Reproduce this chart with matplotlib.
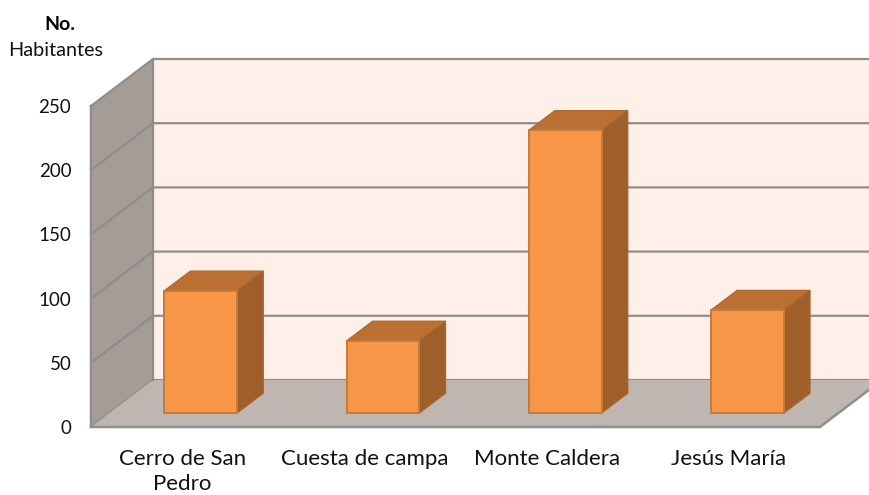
# coding:utf-8

import matplotlib
matplotlib.use('Agg')
import matplotlib.pyplot as plt
from matplotlib.patches import Polygon

plt.rcParams['font.family'] = ['Lato', 'DejaVu Sans']

categories = ['Cerro de San\nPedro', 'Cuesta de campa', 'Monte Caldera', 'Jesús María']
values = [95, 56, 220, 80]
y_ticks = [0, 50, 100, 150, 200, 250]

# oblique projection: how far one full chart depth moves a point
depth_x = 62 / 182.25
depth_y = 47 / 1.284
bar_half = 0.2
bar_front = 0.3
bar_back = 0.72


def pt(x, y, d=0.0):
    return (x + d * depth_x, y + d * depth_y)


def face(ax, points, color, edge, lw=1.0, z=2):
    ax.add_patch(Polygon(points, closed=True, facecolor=color, edgecolor=edge,
                         linewidth=lw, zorder=z, clip_on=False, joinstyle='miter'))


fig = plt.figure(figsize=(8.69, 4.95), dpi=100)
ax = fig.add_axes([91 / 869, 68 / 495, 729 / 869, 321 / 495])
ax.set_xlim(-0.5, 3.5)
ax.set_ylim(0, 250)
for s in ax.spines.values():
    s.set_visible(False)

grid = '#8E8E8E'
x0, x1 = -0.5, 3.5
y_top = y_ticks[-1]

# walls and floor
face(ax, [pt(x0, 0, 1), pt(x1, 0, 1), pt(x1, y_top, 1), pt(x0, y_top, 1)], '#FEF0E8', 'none', z=1)
face(ax, [pt(x0, 0), pt(x0, 0, 1), pt(x0, y_top, 1), pt(x0, y_top)], '#A59C96', 'none', z=1)
face(ax, [pt(x0, 0), pt(x1, 0), pt(x1, 0, 1), pt(x0, 0, 1)], '#BFB5B1', 'none', z=1.5)

for t in y_ticks:
    line = [pt(x0, t), pt(x0, t, 1), pt(x1, t, 1)]
    ax.plot([p[0] for p in line], [p[1] for p in line], color=grid, lw=1.6,
            zorder=1.2, clip_on=False, solid_joinstyle='miter')

edge_pts = [pt(x0, y_top), pt(x0, 0), pt(x1, 0), pt(x1, 0, 1)]
ax.plot([p[0] for p in edge_pts], [p[1] for p in edge_pts], color=grid, lw=1.8,
        zorder=1.6, clip_on=False, solid_joinstyle='miter')
ax.plot(*zip(pt(x0, 0, 1), pt(x0, y_top, 1)), color=grid, lw=1.6, zorder=1.6, clip_on=False)

# bars
for i, v in enumerate(values):
    l, r = i - bar_half, i + bar_half
    face(ax, [pt(l, v, bar_front), pt(r, v, bar_front), pt(r, v, bar_back), pt(l, v, bar_back)],
         '#BA7032', '#B06A30', z=3)
    face(ax, [pt(r, 0, bar_front), pt(r, 0, bar_back), pt(r, v, bar_back), pt(r, v, bar_front)],
         '#9E5F2A', '#A8652C', z=3)
    face(ax, [pt(l, 0, bar_front), pt(r, 0, bar_front), pt(r, v, bar_front), pt(l, v, bar_front)],
         '#F79646', '#C47B3C', lw=1.4, z=4)

ax.set_yticks(y_ticks)
ax.set_xticks(range(len(categories)))
ax.set_xticklabels(categories, linespacing=1.3)
ax.tick_params(axis='y', length=0, pad=14.2, labelsize=13.5, labelcolor='#111111')
ax.tick_params(axis='x', length=0, pad=16, labelsize=16, labelcolor='#111111')

fig.text(60 / 869, 1 - 24 / 495, 'No.', fontsize=14, fontweight='bold', ha='center', va='center')
fig.text(56 / 869, 1 - 50 / 495, 'Habitantes', fontsize=14.3, ha='center', va='center', color='#111111')

fig.savefig('out.png', dpi=100)
